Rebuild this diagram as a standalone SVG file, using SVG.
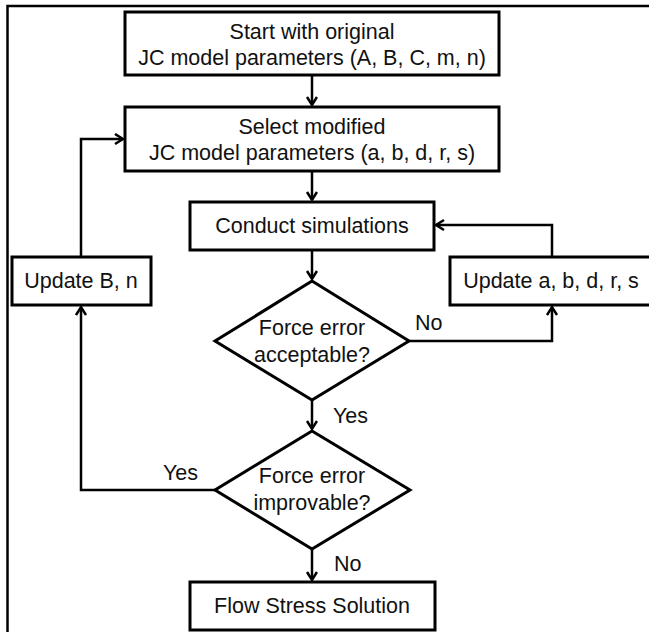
<svg xmlns="http://www.w3.org/2000/svg" width="649" height="632" viewBox="0 0 649 632">
<style>
.box{fill:#fff;stroke:#000;stroke-width:3}
.frame{fill:none;stroke:#000;stroke-width:2.5}
.con{fill:none;stroke:#000;stroke-width:2.5}
.t{font-family:"Liberation Sans",Arial,sans-serif;font-size:21.5px;fill:#111;text-anchor:middle}
.lbl{font-family:"Liberation Sans",Arial,sans-serif;font-size:21.5px;fill:#111}
</style>
<defs>
<marker id="arr" markerUnits="userSpaceOnUse" markerWidth="14" markerHeight="14" refX="10" refY="6" orient="auto">
<path d="M2,1 L10,6 L2,11" fill="none" stroke="#000" stroke-width="2.5"/>
</marker>
</defs>
<rect width="649" height="632" fill="#fff"/>
<path class="frame" d="M7.5,632 V6 H649"/>
<g id="connectors">
<path class="con" d="M312,75 V105" marker-end="url(#arr)"/>
<path class="con" d="M312,171 V200" marker-end="url(#arr)"/>
<path class="con" d="M312,250 V279" marker-end="url(#arr)"/>
<path class="con" d="M409,341 H552 V307" marker-end="url(#arr)"/>
<path class="con" d="M552,257 V225 H436" marker-end="url(#arr)"/>
<path class="con" d="M312,400 V429" marker-end="url(#arr)"/>
<path class="con" d="M215,490 H81 V307" marker-end="url(#arr)"/>
<path class="con" d="M81,257 V139 H123" marker-end="url(#arr)"/>
<path class="con" d="M312,549 V580" marker-end="url(#arr)"/>
<text class="lbl" x="415" y="330">No</text>
<text class="lbl" x="333" y="423">Yes</text>
<text class="lbl" x="163" y="480">Yes</text>
<text class="lbl" x="334" y="571">No</text>
</g>
<g id="start">
<rect class="box" x="125" y="12" width="374" height="63"/>
<text class="t" x="312" y="39">Start with original</text>
<text class="t" x="312" y="65">JC model parameters (A, B, C, m, n)</text>
</g>
<g id="select">
<rect class="box" x="125" y="107" width="374" height="64"/>
<text class="t" x="312" y="134">Select modified</text>
<text class="t" x="312" y="160">JC model parameters (a, b, d, r, s)</text>
</g>
<g id="conduct">
<rect class="box" x="190" y="202" width="244" height="48"/>
<text class="t" x="312" y="233">Conduct simulations</text>
</g>
<g id="updateBn">
<rect class="box" x="12" y="257" width="139" height="48"/>
<text class="t" x="81" y="288">Update B, n</text>
</g>
<g id="updateAbdrs">
<rect class="box" x="450" y="257" width="203" height="48"/>
<text class="t" x="551" y="288">Update a, b, d, r, s</text>
</g>
<g id="acceptable">
<polygon class="box" points="312,281 409,341 312,400 215,341"/>
<text class="t" x="312" y="335">Force error</text>
<text class="t" x="312" y="362">acceptable?</text>
</g>
<g id="improvable">
<polygon class="box" points="312,431 410,490 312,549 215,490"/>
<text class="t" x="312" y="483">Force error</text>
<text class="t" x="312" y="510">improvable?</text>
</g>
<g id="flow">
<rect class="box" x="190" y="582" width="245" height="48"/>
<text class="t" x="312" y="613">Flow Stress Solution</text>
</g>
</svg>
